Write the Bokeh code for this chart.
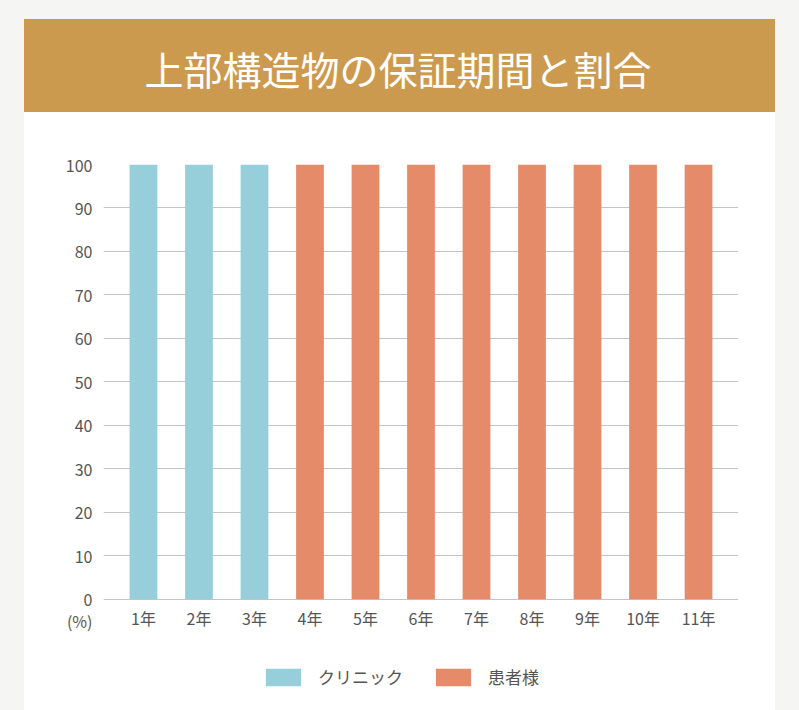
from bokeh.plotting import figure
from bokeh.models import (FactorRange, Range1d, FixedTicker, Legend, LegendItem, Label, Spacer,
                          ColumnDataSource)
from bokeh.layouts import column, row
from bokeh.embed import file_html
from bokeh.resources import INLINE

# ---- data ----
title_text = "上部構造物の保証期間と割合"
years = ["1年", "2年", "3年", "4年", "5年", "6年", "7年", "8年", "9年", "10年", "11年"]
clinic = [100, 100, 100, 0, 0, 0, 0, 0, 0, 0, 0]
patient = [0, 0, 0, 100, 100, 100, 100, 100, 100, 100, 100]
series_names = ["クリニック", "患者様"]
series_colors = ["#96cfda", "#e58b6a"]
y_ticks = [0, 10, 20, 30, 40, 50, 60, 70, 80, 90, 100]
unit_label = "(%)"
unit_pos = -5          # value slot under the 0 line where the unit label sits
y_start = -9           # room under the 0 line for the category labels

FONT = "Noto Sans CJK JP"
TEXT_COLOR = "#555555"
PAGE_BG = "#f5f5f3"
GOLD = "#cc9a4e"

source = ColumnDataSource({"years": years, series_names[0]: clinic, series_names[1]: patient})

# ---- header ----
header = figure(width=751, height=93, x_range=Range1d(0, 1), y_range=Range1d(0, 1),
                output_backend="svg", toolbar_location=None,
                min_border_left=79, min_border_right=37,
                min_border_top=0, min_border_bottom=0,
                styles={"background-color": GOLD})
header.axis.visible = False
header.grid.visible = False
header.outline_line_color = None
header.background_fill_color = None
header.border_fill_color = None
header.add_layout(Label(x=294.5, y=45, x_units="screen", y_units="screen", text=title_text,
                        text_align="center", text_baseline="middle", text_color="#ffffff",
                        text_font_size="39px", text_font=FONT))

# ---- main chart ----
p = figure(width=751, height=536, x_range=FactorRange(factors=years, range_padding=0.22,
                                                      range_padding_units="absolute"),
           y_range=Range1d(y_start, 100), output_backend="svg", toolbar_location=None,
           min_border_left=79, min_border_right=37, min_border_top=52, min_border_bottom=10,
           styles={"background-color": "#ffffff"})
p.background_fill_color = None
p.border_fill_color = None
p.outline_line_color = None

rs = p.vbar_stack(series_names, x="years", width=0.5, color=series_colors, source=source,
                  line_color=None)

p.xgrid.visible = False
p.ygrid.ticker = FixedTicker(ticks=y_ticks)
p.ygrid.grid_line_color = "#c4c4c4"
p.ygrid.grid_line_width = 1
p.yaxis.ticker = FixedTicker(ticks=[unit_pos] + y_ticks)
p.yaxis.major_label_overrides = {unit_pos: unit_label}
p.xaxis.fixed_location = 0

for ax in (p.xaxis[0], p.yaxis[0]):
    ax.axis_line_color = None
    ax.major_tick_line_color = None
    ax.minor_tick_line_color = None
    ax.major_tick_out = 0
    ax.major_tick_in = 0
    ax.major_label_text_font = FONT
    ax.major_label_text_font_size = "16px"
    ax.major_label_text_color = TEXT_COLOR
p.yaxis.major_label_standoff = 11
p.xaxis.major_label_standoff = 7

# ---- legend strip (series swatches; bars themselves are kept out of its view) ----
lf = figure(width=751, height=62, x_range=FactorRange(factors=years),
            y_range=Range1d(1000, 1001),
            output_backend="svg", toolbar_location=None,
            min_border_left=79, min_border_right=37, min_border_top=0, min_border_bottom=0,
            styles={"background-color": "#ffffff"})
lf.axis.visible = False
lf.grid.visible = False
lf.outline_line_color = None
lf.background_fill_color = None
lf.border_fill_color = None
swatches = lf.vbar_stack(series_names, x="years", width=0.5, color=series_colors,
                         source=source, line_color=None)
legend = Legend(items=[LegendItem(label=series_names[i], renderers=[swatches[i]]) for i in range(2)],
                orientation="horizontal", location=(158, 21),
                glyph_width=44, glyph_height=22, label_standoff=13, spacing=28,
                label_width=84,
                padding=0, margin=0, border_line_color=None, background_fill_alpha=0,
                label_text_font=FONT, label_text_font_size="17px", label_text_color=TEXT_COLOR)
lf.add_layout(legend, "center")

card = column(header, p, lf, spacing=0)
page = column(Spacer(width=799, height=19),
              row(Spacer(width=24, height=10), card, Spacer(width=24, height=10), spacing=0),
              spacing=0, styles={"background-color": PAGE_BG})

open("out.html", "w").write(file_html(page, INLINE))
